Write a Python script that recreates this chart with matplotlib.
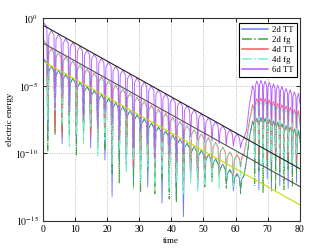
import numpy as np
import matplotlib
matplotlib.use("Agg")
import matplotlib.pyplot as plt

plt.rcParams['font.family'] = ['Liberation Serif', 'DejaVu Serif']
plt.rcParams['mathtext.fontset'] = 'stix'

# ---- data (log10 of electric energy) ----
t_peak_early = [0.0, 2.71, 4.93, 7.15, 9.37, 11.59, 13.81, 16.03, 18.25, 20.47, 22.69, 24.91,
                27.13, 29.35, 31.57, 33.79, 36.01, 38.23, 40.45, 42.67, 44.89, 47.11, 49.33,
                51.55, 53.77, 55.99, 58.21, 60.43, 62.65]
t_trough_early = [1.60, 3.82, 6.04, 8.26, 10.48, 12.70, 14.92, 17.14, 19.36, 21.58, 23.80, 26.02,
                  28.24, 30.46, 32.68, 34.90, 37.12, 39.34, 41.56, 43.78, 46.00, 48.22, 50.44,
                  52.66, 54.88, 57.10, 59.32, 61.54]
t_rise = [63.4, 64.3]
t_peak_late = [65.3, 66.6, 67.9, 69.2, 70.5, 71.8, 73.1, 74.4, 75.7, 77.0, 78.3, 79.6]
t_trough_late = [65.95, 67.25, 68.55, 69.85, 71.15, 72.45, 73.75, 75.05, 76.35, 77.65, 78.95]
t_end = [80.0]

labels = ["2d TT", "2d fg", "4d TT", "4d fg", "6d TT"]

# 2d TT
peaks_2d_tt = [-2.94, -3.55, -3.85, -4.15, -4.45, -4.75, -5.05, -5.35, -5.65, -5.95, -6.25, -6.55,
               -6.85, -7.15, -7.45, -7.75, -8.05, -8.35, -8.65, -8.95, -9.25, -9.5, -9.8, -10.1,
               -10.4, -10.8, -11.2, -11.5, -11.6]
troughs_2d_tt = [-9.0, -8.0, -9.3, -7.8, -9.0, -8.5, -9.6, -8.8, -10.5, -13.2, -10.6, -11.3, -12.0,
                 -11.0, -12.5, -11.8, -13.7, -12.4, -13.5, -14.7, -12.0, -12.6, -12.2, -11.8,
                 -11.6, -12.3, -12.8, -12.7]
rise_2d_tt = [-10.5, -8.8]
late_peaks_2d_tt = [-7.6, -7.4, -7.35, -7.4, -7.5, -7.6, -7.7, -7.8, -7.95, -8.05, -8.2, -8.3]
late_troughs_2d_tt = [-11.5, -12.7, -10.8, -11.9, -12.8, -11.2, -12.4, -11.0, -12.6, -11.6, -12.2]
end_2d_tt = [-9.0]

# 2d fg
peaks_2d_fg = [-2.98, -3.58, -3.88, -4.18, -4.47, -4.78, -5.08, -5.37, -5.68, -5.97, -6.28, -6.57,
               -6.88, -7.17, -7.48, -7.77, -8.08, -8.37, -8.68, -8.97, -9.28, -9.53, -9.83, -10.12,
               -10.45, -10.85, -11.25, -11.55, -11.65]
troughs_2d_fg = [-9.9, -8.6, -8.4, -8.65, -10.2, -9.0, -8.5, -9.6, -9.8, -11.5, -12.2, -10.8, -12.6,
                 -12.9, -11.3, -13.0, -12.0, -13.4, -13.6, -12.8, -11.0, -12.0, -12.5, -12.1,
                 -11.6, -12.6, -12.4, -13.0]
rise_2d_fg = [-10.6, -8.9]
late_peaks_2d_fg = [-7.65, -7.45, -7.4, -7.45, -7.55, -7.65, -7.75, -7.85, -8.0, -8.1, -8.25, -8.35]
late_troughs_2d_fg = [-12.4, -11.3, -12.9, -11.0, -12.0, -12.8, -11.4, -12.7, -11.2, -12.5, -11.5]
end_2d_fg = [-9.2]

# 4d TT
peaks_4d_tt = [-1.55, -2.25, -2.55, -2.85, -3.15, -3.45, -3.75, -4.05, -4.35, -4.65, -4.95, -5.25,
               -5.55, -5.85, -6.15, -6.45, -6.75, -7.05, -7.35, -7.65, -7.95, -8.25, -8.55, -8.85,
               -9.2, -9.55, -9.9, -10.1, -10.0]
troughs_4d_tt = [-6.0, -8.5, -8.8, -7.2, -8.0, -7.6, -8.85, -9.25, -8.4, -10.0, -9.2, -9.8, -11.0,
                 -10.2, -10.0, -11.5, -10.6, -11.2, -11.8, -11.4, -11.6, -12.0, -11.5, -11.4,
                 -11.8, -11.2, -11.8, -11.0]
rise_4d_tt = [-9.0, -7.6]
late_peaks_4d_tt = [-6.4, -5.95, -5.9, -5.95, -6.05, -6.15, -6.3, -6.4, -6.5, -6.6, -6.75, -6.85]
late_troughs_4d_tt = [-9.6, -10.2, -9.4, -10.5, -9.8, -10.0, -10.8, -9.7, -10.3, -10.0, -10.6]
end_4d_tt = [-7.8]

# 4d fg
peaks_4d_fg = [-1.6, -2.3, -2.6, -2.9, -3.2, -3.5, -3.8, -4.1, -4.4, -4.7, -5.0, -5.3,
               -5.6, -5.9, -6.2, -6.5, -6.8, -7.1, -7.4, -7.7, -8.0, -8.3, -8.6, -8.9,
               -9.25, -9.6, -9.95, -10.2, -10.2]
troughs_4d_fg = [-7.5, -6.8, -7.9, -9.5, -8.6, -9.3, -8.0, -10.2, -9.0, -10.8, -9.7, -11.4, -10.4,
                 -12.0, -11.0, -12.3, -11.5, -12.6, -12.1, -13.0, -12.2, -12.8, -12.4, -12.0,
                 -12.6, -11.9, -12.5, -11.8]
rise_4d_fg = [-9.3, -7.9]
late_peaks_4d_fg = [-6.6, -6.2, -6.15, -6.2, -6.3, -6.4, -6.55, -6.65, -6.75, -6.85, -7.0, -7.1]
late_troughs_4d_fg = [-10.4, -9.5, -10.9, -9.9, -10.6, -9.6, -10.2, -11.0, -9.9, -10.7, -10.1]
end_4d_fg = [-8.0]

# 6d TT
peaks_6d_tt = [-0.25, -0.90, -1.20, -1.50, -1.78, -2.08, -2.37, -2.66, -2.96, -3.25, -3.54, -3.84,
               -4.13, -4.42, -4.72, -5.01, -5.30, -5.60, -5.90, -6.18, -6.48, -6.78, -7.06, -7.36,
               -7.65, -7.95, -8.25, -8.55, -8.85]
troughs_6d_tt = [-4.2, -6.7, -5.6, -6.9, -5.2, -7.4, -6.3, -8.1, -7.0, -7.8, -9.0, -7.4, -9.6,
                 -8.5, -9.3, -10.4, -9.2, -10.0, -10.6, -10.1, -8.8, -9.0, -9.2, -9.1, -9.3,
                 -9.4, -9.5, -9.6]
rise_6d_tt = [-8.3, -6.4]
late_peaks_6d_tt = [-5.0, -4.65, -4.6, -4.65, -4.75, -4.85, -4.95, -5.05, -5.2, -5.3, -5.45, -5.55]
late_troughs_6d_tt = [-7.6, -7.3, -7.8, -7.4, -7.6, -7.9, -7.5, -7.8, -8.0, -7.7, -8.1]
end_6d_tt = [-6.3]

# decay-rate reference lines
ref_t = [0.0, 80.0]
ref_black = [-0.50, -11.15]
ref_gray = [-1.82, -12.47]
ref_yellow = [-3.17, -13.82]

# ---- drawing helpers (shape of each dip) ----
DIP_HALF_EARLY = 0.32
DIP_HALF_LATE = 0.2
SHOULDER_DROP = 0.35


def alternate(tp, vp, tt, vt):
    pts = [(a, b, 'p') for a, b in zip(tp, vp)] + [(a, b, 't') for a, b in zip(tt, vt)]
    return sorted(pts, key=lambda x: x[0])


def build(peaks, troughs, rise, lpeaks, ltroughs, end):
    seq = alternate(t_peak_early, peaks, t_trough_early, troughs)
    seq += [(a, b, 'r') for a, b in zip(t_rise, rise)]
    seq += alternate(t_peak_late, lpeaks, t_trough_late, ltroughs)
    seq += [(a, b, 'r') for a, b in zip(t_end, end)]
    ts, vs = [], []
    for i, (t, v, k) in enumerate(seq):
        if k == 't':
            w = DIP_HALF_EARLY if t < 62 else DIP_HALF_LATE
            prev_v = seq[i - 1][1]
            next_v = seq[i + 1][1]
            ts += [t - w, t, t + w]
            vs += [prev_v - SHOULDER_DROP, v, next_v - SHOULDER_DROP]
        else:
            ts.append(t)
            vs.append(v)
    return np.array(ts), 10.0 ** np.array(vs)


series = [
    (peaks_2d_tt, troughs_2d_tt, rise_2d_tt, late_peaks_2d_tt, late_troughs_2d_tt, end_2d_tt, '#6a7dff', '-'),
    (peaks_2d_fg, troughs_2d_fg, rise_2d_fg, late_peaks_2d_fg, late_troughs_2d_fg, end_2d_fg, '#3aa83a', '-.'),
    (peaks_4d_tt, troughs_4d_tt, rise_4d_tt, late_peaks_4d_tt, late_troughs_4d_tt, end_4d_tt, '#ff5a5a', '-'),
    (peaks_4d_fg, troughs_4d_fg, rise_4d_fg, late_peaks_4d_fg, late_troughs_4d_fg, end_4d_fg, '#70f5c8', '-.'),
    (peaks_6d_tt, troughs_6d_tt, rise_6d_tt, late_peaks_6d_tt, late_troughs_6d_tt, end_6d_tt, '#b45cff', '-'),
]

fig = plt.figure(figsize=(3.31, 2.49), dpi=100)
ax = fig.add_axes([0.129, 0.1137, 0.777, 0.8128])

for (p, tr, ri, lp, lt, en, c, ls), lab in zip(series, labels):
    t, v = build(p, tr, ri, lp, lt, en)
    ax.plot(t, v, color=c, ls=ls, lw=0.65, label=lab)

ax.plot(ref_t, 10.0 ** np.array(ref_black), color='#222222', lw=0.8)
ax.plot(ref_t, 10.0 ** np.array(ref_gray), color='#555555', lw=0.8)
ax.plot(ref_t, 10.0 ** np.array(ref_yellow), color='#c8dc00', lw=0.8)

ax.set_yscale('log')
ax.set_xlim(0, 80)
ax.set_ylim(1e-15, 1)
ax.set_xticks([0, 10, 20, 30, 40, 50, 60, 70, 80])
ax.set_yticks([1e-15, 1e-10, 1e-5, 1])
ax.yaxis.set_minor_locator(matplotlib.ticker.NullLocator())
ax.set_yticklabels([r'$10^{-15}$', r'$10^{-10}$', r'$10^{-5}$', r'$10^{0}$'])
ax.tick_params(direction='in', top=True, right=True, labelsize=7, length=3, width=0.6, pad=3)
ax.grid(True, ls=':', color='#aaaaaa', lw=0.6)
for s in ax.spines.values():
    s.set_linewidth(0.8)
    s.set_color('#333333')
ax.set_xlabel('time', fontsize=6.5, labelpad=2)
ax.set_ylabel('electric energy', fontsize=6.5, labelpad=1)

leg = ax.legend(loc='upper right', fontsize=6.3, frameon=True, fancybox=False,
                edgecolor='black', framealpha=1, handlelength=3.0, handletextpad=0.5,
                borderpad=0.35, labelspacing=0.22, borderaxespad=0.0,
                bbox_to_anchor=(0.988, 0.977))
leg.get_frame().set_linewidth(0.8)
for ln in leg.get_lines():
    ln.set_linewidth(1.1)

fig.savefig('out.png', dpi=100)
